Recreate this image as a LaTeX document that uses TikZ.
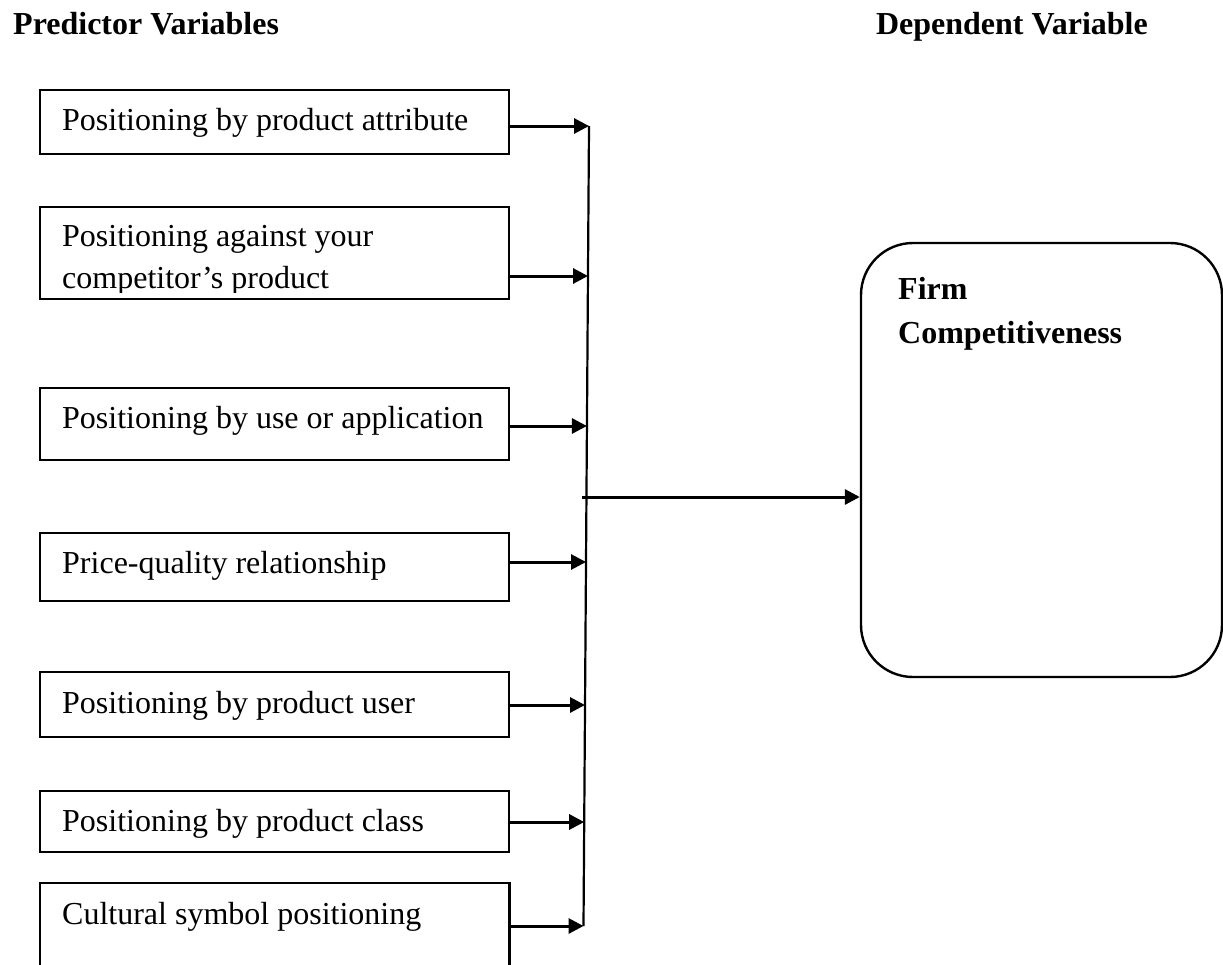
\documentclass[tikz,border=0pt]{standalone}
\usepackage{fontspec}
\setmainfont{Liberation Serif}
\usetikzlibrary{arrows.meta}
\begin{document}
\begin{tikzpicture}[x=1pt,y=-1pt,
  pbox/.style={draw, line width=2.6pt, minimum width=469pt, inner sep=0pt},
  plabel/.style={anchor=base west, inner sep=0pt, font=\fontsize{32}{41}\selectfont},
  head/.style={inner sep=0pt, font=\fontsize{32}{41}\selectfont\bfseries},
  arr/.style={line width=3pt, -{Triangle[length=15pt,width=15pt]}},
  vline/.style={line width=2.2pt},
  fbox/.style={draw, line width=2.4pt, rounded corners=52pt, minimum width=361pt, minimum height=434pt, inner sep=0pt}]
\clip (0,0) rectangle (1223,964);
\fill[white] (0,0) rectangle (1223,964);
% headers
\node[head, anchor=base west] (hp) at (13,34) {Predictor Variables};
\node[head, anchor=base east] (hd) at (1148,34) {Dependent Variable};
% predictor boxes
\node[pbox, minimum height=64pt] (b1) at (274.5,122) {};
\node[pbox, minimum height=92pt] (b2) at (274.5,253) {};
\node[pbox, minimum height=72pt] (b3) at (274.5,424) {};
\node[pbox, minimum height=68pt] (b4) at (274.5,567) {};
\node[pbox, minimum height=65pt] (b5) at (274.5,704.5) {};
\node[pbox, minimum height=61pt] (b6) at (274.5,821.5) {};
\node[minimum width=469pt, minimum height=92pt, inner sep=0pt] (b7) at (274.5,929) {};
\draw[line width=2.6pt] (b7.south west) -- (b7.north west) -- (b7.north east) -- (b7.south east);
% texts
\node[plabel] (t1) at (62,130) {Positioning by product attribute};
\begin{scope}
  \clip (b2.north west) rectangle ([yshift=8pt]b2.south east);
  \node[plabel] (t2a) at (62,246) {Positioning against your};
  \node[plabel] (t2b) at (62,288) {competitor’s product};
\end{scope}
\node[plabel] (t3) at (62,428) {Positioning by use or application};
\node[plabel] (t4) at (62,573) {Price-quality relationship};
\node[plabel] (t5) at (62,713) {Positioning by product user};
\node[plabel] (t6) at (62,831) {Positioning by product class};
\node[plabel] (t7) at (62,924) {Cultural symbol positioning};
% collector line points
\coordinate (a1) at (589,126);
\coordinate (a2) at (588,276);
\coordinate (a3) at (586.9,426);
\coordinate (a4) at (586,562);
\coordinate (a5) at (585,705);
\coordinate (a6) at (584.2,822);
\coordinate (a7) at (583.5,926);
\draw[vline] (a1) -- (a7);
\draw[arr] (b1.east |- a1) -- (a1);
\draw[arr] (b2.east |- a2) -- (a2);
\draw[arr] (b3.east |- a3) -- (a3);
\draw[arr] (b4.east |- a4) -- (a4);
\draw[arr] (b5.east |- a5) -- (a5);
\draw[arr] (b6.east |- a6) -- (a6);
\draw[arr] (b7.east |- a7) -- (a7);
% dependent box
\node[fbox] (firm) at (1041.5,460) {};
\node[head, anchor=base west] (f1) at (898,299) {Firm};
\node[head, anchor=base west] (f2) at (898,343) {Competitiveness};
\coordinate (m0) at (582,497);
\draw[arr] (m0) -- (m0 -| firm.west);
\end{tikzpicture}
\end{document}
